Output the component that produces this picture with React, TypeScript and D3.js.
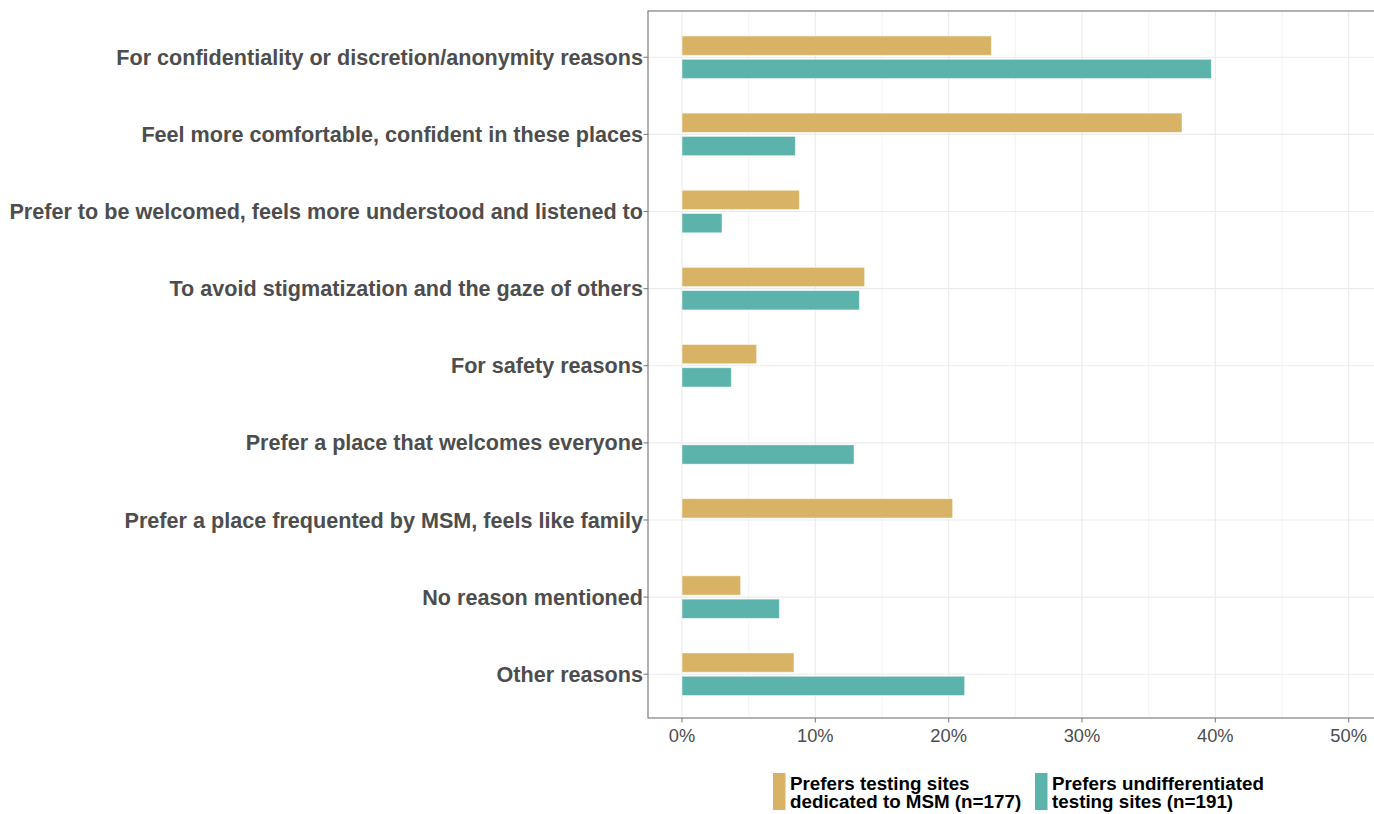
import { scaleLinear, scalePoint, range } from "d3";

const categories = [
  "For confidentiality or discretion/anonymity reasons",
  "Feel more comfortable, confident in these places",
  "Prefer to be welcomed, feels more understood and listened to",
  "To avoid stigmatization and the gaze of others",
  "For safety reasons",
  "Prefer a place that welcomes everyone",
  "Prefer a place frequented by MSM, feels like family",
  "No reason mentioned",
  "Other reasons",
];

// percent of respondents, null = no bar
const dedicatedMsm: (number | null)[] = [23.2, 37.5, 8.8, 13.7, 5.6, null, 20.3, 4.4, 8.4];
const undifferentiated: (number | null)[] = [39.7, 8.5, 3.0, 13.3, 3.7, 12.9, null, 7.3, 21.2];

const xTicks = [0, 10, 20, 30, 40, 50];
const xMinor = [5, 15, 25, 35, 45];

const series = [
  { key: "msm", values: dedicatedMsm, color: "#D8B366", label: ["Prefers testing sites", "dedicated to MSM (n=177)"] },
  { key: "undiff", values: undifferentiated, color: "#5BB3AB", label: ["Prefers undifferentiated", "testing sites (n=191)"] },
];

export default function App() {
  const width = 1374;
  const height = 814;
  const panel = { left: 648, right: 1374, top: 11, bottom: 718 };

  const x = scaleLinear().domain([-2.55, 51.9]).range([panel.left, panel.right]);
  const y = scalePoint<string>().domain(categories).range([panel.top, panel.bottom + 2.5]).padding(0.6);
  const step = y.step();
  const barH = step * 0.25;
  const gap = step * 0.026;

  const legendX = [773, 1035];

  return (
    <svg
      width={width}
      height={height}
      style={{ position: "absolute", left: 0, top: 0, fontFamily: "Liberation Sans, Arial, sans-serif" }}
    >
      <rect width={width} height={height} fill="#fff" />
      {/* grid */}
      {xMinor.map((t) => (
        <line key={"m" + t} x1={x(t)} x2={x(t)} y1={panel.top} y2={panel.bottom} stroke="#f0f0f0" strokeWidth={0.8} />
      ))}
      {xTicks.map((t) => (
        <line key={"g" + t} x1={x(t)} x2={x(t)} y1={panel.top} y2={panel.bottom} stroke="#ebebeb" strokeWidth={1.1} />
      ))}
      {categories.map((c) => (
        <line key={"h" + c} x1={panel.left} x2={panel.right} y1={y(c)} y2={y(c)} stroke="#ebebeb" strokeWidth={1.1} />
      ))}

      {/* bars */}
      {series.map((s, si) =>
        s.values.map((v, i) => {
          if (v == null) return null;
          const cy = y(categories[i])!;
          const top = si === 0 ? cy - gap - barH : cy + gap;
          return (
            <rect
              key={s.key + i}
              x={x(0)}
              y={top}
              width={x(v) - x(0)}
              height={barH}
              fill={s.color}
              stroke="#ffffff"
              strokeOpacity={0.6}
              strokeWidth={0.8}
            />
          );
        })
      )}

      {/* panel border */}
      <rect
        x={panel.left}
        y={panel.top}
        width={panel.right - panel.left + 1}
        height={panel.bottom - panel.top}
        fill="none"
        stroke="#7f7f7f"
        strokeWidth={1.2}
      />

      {/* y axis */}
      {categories.map((c) => (
        <g key={"yl" + c}>
          <line x1={panel.left - 4.5} x2={panel.left} y1={y(c)} y2={y(c)} stroke="#7f7f7f" strokeWidth={1.1} />
          <text
            x={panel.left - 5}
            y={y(c)}
            dy="0.35em"
            textAnchor="end"
            fontSize={21.6}
            fontWeight="bold"
            fill="#4d4d4d"
          >
            {c}
          </text>
        </g>
      ))}

      {/* x axis */}
      {xTicks.map((t) => (
        <g key={"xl" + t}>
          <line x1={x(t)} x2={x(t)} y1={panel.bottom} y2={panel.bottom + 4.5} stroke="#7f7f7f" strokeWidth={1.1} />
          <text x={x(t)} y={panel.bottom + 23.5} textAnchor="middle" fontSize={18.3} fill="#4d4d4d">
            {t}%
          </text>
        </g>
      ))}

      {/* legend */}
      {series.map((s, si) => (
        <g key={"lg" + s.key} transform={`translate(${legendX[si]},773)`}>
          <rect x={0} y={0} width={12.5} height={37} fill={s.color} />
          {range(s.label.length).map((li) => (
            <text key={li} x={17} y={16.5 + li * 18.5} fontSize={18.8} fontWeight="bold" fill="#000">
              {s.label[li]}
            </text>
          ))}
        </g>
      ))}
    </svg>
  );
}
